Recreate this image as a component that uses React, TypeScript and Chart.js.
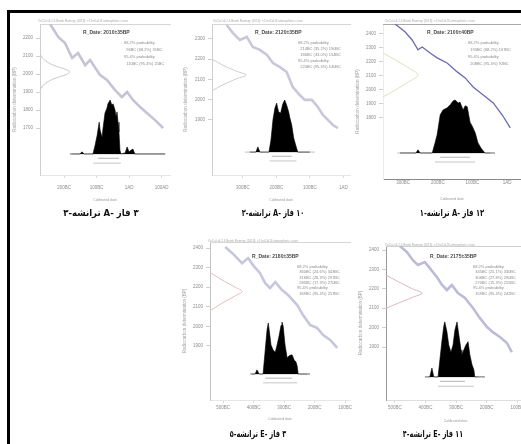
import React, { useEffect, useRef } from 'react';
import { Chart, registerables } from 'chart.js';

Chart.register(...registerables);
Chart.defaults.font.family = '"Liberation Sans", Arial, sans-serif';

const HEADER = 'OxCal v4.2.4 Bronk Ramsey (2013); r:5 IntCal13 atmospheric curve';
const X_TITLE = 'Calibrated date';
const Y_TITLE = 'Radiocarbon determination (BP)';

// ---------- Plot 1 (top left) ----------
const P1_CURVE_YEAR = [-243, -218, -197, -175, -157, -135, -120, -89, -68, -43, -22, -6, 12, 34, 55, 80, 105];
const P1_CURVE_BP = [2278, 2206, 2172, 2089, 2117, 2050, 2078, 1994, 1967, 1911, 1872, 1900, 1856, 1817, 1783, 1744, 1700];
const P1_GAUSS_P = [0, 0.03, 0.1, 0.2, 0.23, 0.2, 0.1, 0.03, 0];
const P1_GAUSS_BP = [2110, 2080, 2050, 2025, 2011, 1997, 1972, 1942, 1912];
const P1_DIST_YEAR = [-182, -151, -145, -138, -111, -105, -98, -92, -89, -83, -80, -74, -68, -65, -58, -55, -52, -49, -43, -40, -37, -34, -31, -28, -25, -12, -6, 0, 6, 12, 18, 111];
const P1_DIST_P = [0, 0, 0.04, 0, 0, 0.15, 0.35, 0.59, 0.44, 0.31, 0.48, 0.76, 0.85, 0.93, 1.0, 0.94, 0.91, 0.93, 0.81, 0.69, 0.78, 0.59, 0.41, 0.07, 0, 0.02, 0.13, 0.04, 0.07, 0.09, 0, 0];
const P1_BASE_YEAR = [-175, 112];
const P1_R68 = [-96, -31];
const P1_R95 = [-110, -25];
const P1_Y_TICKS = [2200, 2100, 2000, 1900, 1800, 1700];
const P1_X_TICKS = [-200, -100, 0, 100];
const P1_X_LABELS = ['200BC', '100BC', '1AD', '100AD'];
const P1_TITLE = 'R_Date: 2010±35BP';
const P1_LEGEND = ['68.2% probability', '  96BC (68.2%) 31BC', '95.4% probability', '  110BC (95.4%) 25BC'];
const P1_CAPTION = ['۳-', 'ترانشه', ' A- ', 'فاز', ' ۳'];

// ---------- Plot 2 (top middle) ----------
const P2_CURVE_YEAR = [-348, -330, -309, -288, -270, -249, -228, -210, -190, -169, -151, -130, -115, -94, -76, -61, -46, -31, -16];
const P2_CURVE_BP = [2369, 2330, 2295, 2310, 2260, 2246, 2221, 2181, 2162, 2137, 2063, 2023, 1999, 1999, 1964, 1925, 1900, 1875, 1860];
const P2_GAUSS_P = [0, 0.08, 0.18, 0.25, 0.18, 0.08, 0];
const P2_GAUSS_BP = [2200, 2170, 2140, 2122, 2104, 2074, 2044];
const P2_DIST_YEAR = [-279, -261, -255, -249, -222, -216, -210, -204, -199, -196, -193, -187, -181, -175, -169, -163, -160, -154, -148, -142, -136, -100];
const P2_DIST_P = [0, 0, 0.10, 0, 0, 0.23, 0.62, 0.85, 0.94, 0.85, 0.77, 0.75, 0.92, 1.0, 0.90, 0.77, 0.67, 0.52, 0.27, 0.13, 0, 0];
const P2_BASE_YEAR = [-294, -85];
const P2_R68 = [-213, -154];
const P2_R95 = [-220, -140];
const P2_Y_TICKS = [2300, 2200, 2100, 2000, 1900];
const P2_X_TICKS = [-300, -200, -100, 0];
const P2_X_LABELS = ['300BC', '200BC', '100BC', '1AD'];
const P2_TITLE = 'R_Date: 2120±35BP';
const P2_LEGEND = ['68.2% probability', '  214BC (35.2%) 190BC', '  186BC (33.0%) 154BC', '95.4% probability', '  220BC (95.4%) 140BC'];
const P2_CAPTION = ['۲-', 'ترانشه', ' A- ', 'فاز', ' ۱۰'];

// ---------- Plot 3 (top right) ----------
const P3_CURVE_YEAR = [-323, -294, -274, -257, -245, -222, -202, -173, -144, -121, -98, -69, -40, -14, 9];
const P3_CURVE_BP = [2471, 2414, 2357, 2286, 2307, 2264, 2229, 2193, 2129, 2086, 2021, 1964, 1907, 1821, 1729];
const P3_GAUSS_P = [0, 0.08, 0.18, 0.254, 0.18, 0.08, 0];
const P3_GAUSS_BP = [2264, 2220, 2160, 2107, 2054, 1994, 1950];
const P3_DIST_YEAR = [-309, -263, -257, -251, -216, -208, -202, -193, -185, -173, -164, -156, -150, -141, -136, -127, -121, -115, -107, -101, -92, -84, -75, -64, -35];
const P3_DIST_P = [0, 0, 0.06, 0, 0, 0.19, 0.34, 0.72, 0.81, 0.85, 0.91, 0.98, 1.0, 0.94, 0.96, 0.81, 0.89, 0.87, 0.58, 0.51, 0.38, 0.19, 0.09, 0, 0];
const P3_BASE_YEAR = [-317, -49];
const P3_R68 = [-193, -107];
const P3_R95 = [-208, -92];
const P3_Y_TICKS = [2400, 2300, 2200, 2100, 2000, 1900, 1800];
const P3_X_TICKS = [-300, -200, -100, 0];
const P3_X_LABELS = ['300BC', '200BC', '100BC', '1AD'];
const P3_TITLE = 'R_Date: 2100±40BP';
const P3_LEGEND = ['68.2% probability', '  193BC (68.2%) 107BC', '95.4% probability', '  208BC (95.4%) 92BC'];
const P3_CAPTION = ['۱-', 'ترانشه', ' A- ', 'فاز', ' ۱۲'];

// ---------- Plot 4 (bottom middle) ----------
const P4_CURVE_YEAR = [-493, -470, -454, -438, -418, -402, -379, -362, -346, -329, -307, -287, -257, -238, -215, -192, -172, -149, -126];
const P4_CURVE_BP = [2405, 2374, 2349, 2323, 2349, 2313, 2272, 2221, 2196, 2227, 2186, 2160, 2109, 2058, 2007, 1992, 1956, 1931, 1890];
const P4_GAUSS_P = [0, 0.08, 0.18, 0.23, 0.18, 0.08, 0];
const P4_GAUSS_BP = [2275, 2240, 2200, 2178, 2156, 2116, 2080];
const P4_DIST_YEAR = [-411, -395, -389, -382, -369, -362, -356, -352, -349, -343, -336, -329, -323, -316, -310, -307, -303, -297, -290, -284, -274, -267, -261, -257, -254, -215];
const P4_DIST_P = [0, 0, 0.08, 0, 0, 0.46, 0.85, 0.98, 0.85, 0.56, 0.46, 0.42, 0.56, 0.75, 0.94, 1.0, 0.92, 0.56, 0.31, 0.35, 0.37, 0.27, 0.23, 0.15, 0, 0];
const P4_BASE_YEAR = [-405, -225];
const P4_R68 = [-362, -274];
const P4_R95 = [-369, -257];
const P4_Y_TICKS = [2400, 2300, 2200, 2100, 2000, 1900];
const P4_X_TICKS = [-500, -400, -300, -200, -100];
const P4_X_LABELS = ['500BC', '400BC', '300BC', '200BC', '100BC'];
const P4_TITLE = 'R_Date: 2180±35BP';
const P4_LEGEND = ['68.2% probability', '  360BC (24.6%) 343BC', '  316BC (26.3%) 297BC', '  285BC (17.3%) 270BC', '95.4% probability', '  369BC (95.4%) 257BC'];
const P4_CAPTION = ['۵-', 'ترانشه', ' E- ', 'فاز', ' ۳'];

// ---------- Plot 5 (bottom right) ----------
const P5_CURVE_YEAR = [-484, -461, -441, -425, -402, -386, -363, -346, -330, -314, -294, -271, -245, -222, -199, -180, -157, -134, -118];
const P5_CURVE_BP = [2421, 2390, 2348, 2323, 2338, 2307, 2261, 2220, 2194, 2220, 2178, 2153, 2101, 2049, 2003, 1977, 1952, 1921, 1874];
const P5_GAUSS_P = [0, 0.08, 0.19, 0.26, 0.19, 0.08, 0];
const P5_GAUSS_BP = [2271, 2240, 2200, 2178, 2156, 2124, 2100];
const P5_DIST_YEAR = [-402, -386, -379, -373, -359, -353, -346, -340, -337, -330, -324, -317, -310, -304, -297, -291, -284, -281, -275, -268, -261, -255, -248, -242, -239, -206];
const P5_DIST_P = [0, 0, 0.16, 0, 0, 0.31, 0.67, 0.93, 1.0, 0.82, 0.58, 0.45, 0.58, 0.85, 1.0, 0.76, 0.49, 0.40, 0.49, 0.58, 0.64, 0.40, 0.22, 0.13, 0, 0];
const P5_BASE_YEAR = [-392, -229];
const P5_R68 = [-353, -271];
const P5_R95 = [-359, -242];
const P5_Y_TICKS = [2400, 2300, 2200, 2100, 2000, 1900];
const P5_X_TICKS = [-500, -400, -300, -200, -100];
const P5_X_LABELS = ['500BC', '400BC', '300BC', '200BC', '100BC'];
const P5_TITLE = 'R_Date: 2175±35BP';
const P5_LEGEND = ['68.2% probability', '  345BC (25.1%) 330BC', '  306BC (27.8%) 290BC', '  270BC (15.3%) 255BC', '95.4% probability', '  359BC (95.4%) 242BC'];
const P5_CAPTION = ['۴-', 'ترانشه', ' E- ', 'فاز', ' ۱۱'];

const pts = (xs: number[], ys: number[]) => xs.map((x, i) => ({ x, y: ys[i] }));

type Spec = any;

const SPECS: Spec[] = [
  {
    key: 'p1', left: 12, top: 14, w: 165, h: 195, pad: { left: 0, top: 10, right: 7, bottom: 7 }, yW: 28, xH: 27,
    xTickLen: 3, xTickPad: 7, xRange: [-274, 126], yRange: [1439, 2278], y2Range: [-0.39, 2.41],
    curveYear: P1_CURVE_YEAR, curveBP: P1_CURVE_BP, gaussP: P1_GAUSS_P, gaussBP: P1_GAUSS_BP,
    distYear: P1_DIST_YEAR, distP: P1_DIST_P, baseYear: P1_BASE_YEAR, r68: P1_R68, r95: P1_R95,
    yTicks: P1_Y_TICKS, xTicks: P1_X_TICKS, xLabels: P1_X_LABELS, title: P1_TITLE, legend: P1_LEGEND,
    curveColor: '#c4c4d6', curveWidth: 2.6, gaussColor: '#c8c8c8', xBorder: '#e6e6e6', yBorder: '#cfcfcf', topBorder: '#d6d6d6',
    notes: { hDX: -2, hDY: -3, tDX: 43, tDY: 9, lDX: 84, lDY: 19, lStep: 7 },
    caption: P1_CAPTION, capX: 101, capY: 213, capScale: 0.9,
  },
  {
    key: 'p2', left: 183, top: 14, w: 172, h: 195, pad: { left: 0, top: 10, right: 5, bottom: 7 }, yW: 29, xH: 27,
    xTickLen: 3, xTickPad: 7, xRange: [-392, 20], yRange: [1628, 2374], y2Range: [-0.44, 2.46],
    curveYear: P2_CURVE_YEAR, curveBP: P2_CURVE_BP, gaussP: P2_GAUSS_P, gaussBP: P2_GAUSS_BP,
    distYear: P2_DIST_YEAR, distP: P2_DIST_P, baseYear: P2_BASE_YEAR, r68: P2_R68, r95: P2_R95,
    yTicks: P2_Y_TICKS, xTicks: P2_X_TICKS, xLabels: P2_X_LABELS, title: P2_TITLE, legend: P2_LEGEND,
    curveColor: '#c8c8d8', curveWidth: 2.6, gaussColor: '#cdcdcd', xBorder: '#e6e6e6', yBorder: '#cfcfcf', topBorder: '#d6d6d6',
    notes: { hDX: 1, hDY: -3, tDX: 43, tDY: 9, lDX: 86, lDY: 19, lStep: 6 },
    caption: P2_CAPTION, capX: 273, capY: 213, capScale: 0.7,
  },
  {
    key: 'p3', left: 355, top: 14, w: 180, h: 195, pad: { left: 0, top: 10, right: 14, bottom: 8 }, yW: 28, xH: 22,
    xTickLen: 1.5, xTickPad: 0, xRange: [-358, 40], yRange: [1364, 2471], y2Range: [-0.49, 2.43],
    curveYear: P3_CURVE_YEAR, curveBP: P3_CURVE_BP, gaussP: P3_GAUSS_P, gaussBP: P3_GAUSS_BP,
    distYear: P3_DIST_YEAR, distP: P3_DIST_P, baseYear: P3_BASE_YEAR, r68: P3_R68, r95: P3_R95,
    yTicks: P3_Y_TICKS, xTicks: P3_X_TICKS, xLabels: P3_X_LABELS, title: P3_TITLE, legend: P3_LEGEND,
    curveColor: '#6a6ab0', curveWidth: 1.3, gaussColor: '#dbe2b4', xBorder: '#8a8a8a', yBorder: '#ececec', topBorder: '#a8a8a8',
    notes: { hDX: 2, hDY: -3, tDX: 44, tDY: 9, lDX: 85, lDY: 19, lStep: 7 },
    caption: P3_CAPTION, capX: 452, capY: 213, capScale: 0.72,
  },
  {
    key: 'p4', left: 182, top: 232, w: 175, h: 192, pad: { left: 0, top: 10, right: 7, bottom: 3 }, yW: 28, xH: 21,
    xTickLen: 3, xTickPad: 2.3, xRange: [-543, -84], yRange: [1624, 2431], y2Range: [-0.5, 2.54],
    curveYear: P4_CURVE_YEAR, curveBP: P4_CURVE_BP, gaussP: P4_GAUSS_P, gaussBP: P4_GAUSS_BP,
    distYear: P4_DIST_YEAR, distP: P4_DIST_P, baseYear: P4_BASE_YEAR, r68: P4_R68, r95: P4_R95,
    yTicks: P4_Y_TICKS, xTicks: P4_X_TICKS, xLabels: P4_X_LABELS, title: P4_TITLE, legend: P4_LEGEND,
    curveColor: '#c6c6de', curveWidth: 2.6, gaussColor: '#e6bcbc', xBorder: '#e6e6e6', yBorder: '#c4c4c4', topBorder: '#d6d6d6',
    notes: { hDX: -2, hDY: -1, tDX: 42, tDY: 15, lDX: 87, lDY: 25, lStep: 5.3 },
    caption: P4_CAPTION, capX: 258, capY: 434, capScale: 0.68,
  },
  {
    key: 'p5', left: 358, top: 236, w: 180, h: 190, pad: { left: 0, top: 10, right: 13, bottom: 3 }, yW: 28, xH: 23,
    xTickLen: 3, xTickPad: 2.3, xRange: [-529, -75], yRange: [1627, 2421], y2Range: [-0.42, 2.38],
    curveYear: P5_CURVE_YEAR, curveBP: P5_CURVE_BP, gaussP: P5_GAUSS_P, gaussBP: P5_GAUSS_BP,
    distYear: P5_DIST_YEAR, distP: P5_DIST_P, baseYear: P5_BASE_YEAR, r68: P5_R68, r95: P5_R95,
    yTicks: P5_Y_TICKS, xTicks: P5_X_TICKS, xLabels: P5_X_LABELS, title: P5_TITLE, legend: P5_LEGEND,
    curveColor: '#bcbcda', curveWidth: 2.6, gaussColor: '#e2b4c0', xBorder: '#dedede', yBorder: '#9a9a9a', topBorder: '#d0d0d0',
    notes: { hDX: -1, hDY: -1, tDX: 44, tDY: 11, lDX: 87, lDY: 21, lStep: 5.3 },
    caption: P5_CAPTION, capX: 433, capY: 434, capScale: 0.68,
  },
];

function CalPlot({ spec }: { spec: Spec }) {
  const ref = useRef<HTMLCanvasElement>(null);
  useEffect(() => {
    const canvas = ref.current;
    if (!canvas) return;
    const n = spec.notes;
    const notesPlugin = {
      id: 'calNotes',
      afterDraw(chart: any) {
        const { ctx, chartArea: ca } = chart;
        ctx.save();
        ctx.textBaseline = 'middle';
        ctx.textAlign = 'left';
        ctx.fillStyle = '#a8a8a8';
        ctx.font = '3px "Liberation Sans", Arial, sans-serif';
        ctx.fillText(HEADER, ca.left + n.hDX, ca.top + n.hDY);
        ctx.fillStyle = '#4a4a4a';
        ctx.font = 'bold 5px "Liberation Sans", Arial, sans-serif';
        ctx.fillText(spec.title, ca.left + n.tDX, ca.top + n.tDY);
        ctx.fillStyle = '#8a8a8a';
        ctx.font = '4px "Liberation Sans", Arial, sans-serif';
        spec.legend.forEach((t: string, i: number) => {
          ctx.fillText(t, ca.left + n.lDX, ca.top + n.lDY + i * n.lStep);
        });
        ctx.restore();
      },
    };
    const r68Lvl = -0.08;
    const r95Lvl = -0.17;
    const chart = new Chart(canvas, {
      type: 'line',
      data: {
        datasets: [
          {
            label: 'posterior', data: pts(spec.distYear, spec.distP), xAxisID: 'x', yAxisID: 'y2',
            borderColor: '#000', backgroundColor: '#000', borderWidth: 0.6, fill: 'origin', pointRadius: 0, tension: 0,
          },
          {
            label: 'baseline', data: pts(spec.baseYear, [0, 0]), xAxisID: 'x', yAxisID: 'y2',
            borderColor: '#b0b0b0', borderWidth: 0.8, fill: false, pointRadius: 0,
          },
          {
            label: '68.2%', data: pts(spec.r68, [r68Lvl, r68Lvl]), xAxisID: 'x', yAxisID: 'y2',
            borderColor: '#a0a0a0', borderWidth: 0.8, fill: false, pointRadius: 0,
          },
          {
            label: '95.4%', data: pts(spec.r95, [r95Lvl, r95Lvl]), xAxisID: 'x', yAxisID: 'y2',
            borderColor: '#b8b8b8', borderWidth: 0.8, fill: false, pointRadius: 0,
          },
          {
            label: 'IntCal13', data: pts(spec.curveYear, spec.curveBP), xAxisID: 'x', yAxisID: 'y',
            borderColor: spec.curveColor, borderWidth: spec.curveWidth, fill: false, pointRadius: 0, tension: 0,
          },
          {
            label: 'measurement', data: pts(spec.gaussP, spec.gaussBP), xAxisID: 'x2', yAxisID: 'y',
            borderColor: spec.gaussColor, borderWidth: 1, fill: false, pointRadius: 0, tension: 0.3,
          },
        ],
      },
      options: {
        responsive: false,
        animation: false,
        events: [],
        layout: { padding: spec.pad },
        plugins: { legend: { display: false }, tooltip: { enabled: false }, title: { display: false } },
        scales: {
          x: {
            type: 'linear', position: 'bottom', min: spec.xRange[0], max: spec.xRange[1],
            afterBuildTicks: (s: any) => { s.ticks = spec.xTicks.map((v: number) => ({ value: v })); },
            afterFit: (s: any) => { s.height = spec.xH; },
            ticks: {
              autoSkip: false, maxRotation: 0, minRotation: 0, padding: spec.xTickPad,
              font: { size: 4.5 }, color: '#8c8c8c',
              callback: (_v: any, i: number) => spec.xLabels[i],
            },
            grid: { display: true, drawOnChartArea: false, drawTicks: true, tickLength: spec.xTickLen, color: '#cfcfcf', lineWidth: 0.8 },
            border: { display: true, color: spec.xBorder, width: 1 },
            title: { display: true, text: X_TITLE, font: { size: 3.5 }, color: '#9a9a9a', padding: 0 },
          },
          y: {
            type: 'linear', position: 'left', min: spec.yRange[0], max: spec.yRange[1],
            afterBuildTicks: (s: any) => { s.ticks = spec.yTicks.map((v: number) => ({ value: v })); },
            afterFit: (s: any) => { s.width = spec.yW; },
            ticks: {
              autoSkip: false, padding: 3, font: { size: 4.5 }, color: '#8c8c8c',
              callback: (_v: any, i: number) => String(spec.yTicks[i]),
            },
            grid: { display: true, drawOnChartArea: false, drawTicks: true, tickLength: 4, color: '#c4c4c4', lineWidth: 0.8 },
            border: { display: true, color: spec.yBorder, width: 1 },
            title: { display: true, text: Y_TITLE, font: { size: 4.5 }, color: '#a4a4a4', padding: 0 },
          },
          x2: {
            type: 'linear', position: 'top', min: 0, max: 1,
            ticks: { display: false },
            grid: { display: true, drawOnChartArea: false, drawTicks: false },
            border: { display: true, color: spec.topBorder, width: 1 },
            afterFit: (s: any) => { s.height = 0; },
          },
          y2: { type: 'linear', display: false, min: spec.y2Range[0], max: spec.y2Range[1] },
        },
      },
      plugins: [notesPlugin],
    } as any);
    return () => chart.destroy();
  }, [spec]);
  return (
    <canvas
      ref={ref}
      width={spec.w}
      height={spec.h}
      style={{ position: 'absolute', left: spec.left, top: spec.top, width: spec.w, height: spec.h }}
    />
  );
}

function Caption({ spec }: { spec: Spec }) {
  return (
    <div
      dir="ltr"
      style={{
        position: 'absolute', left: spec.capX - 60, top: spec.capY - 7, width: 120, height: 14,
        display: 'flex', justifyContent: 'center', alignItems: 'center', whiteSpace: 'pre',
        fontFamily: '"DejaVu Sans", sans-serif', fontWeight: 'bold', fontSize: 9.5, color: '#111', lineHeight: '14px',
        transform: `scaleX(${spec.capScale})`, transformOrigin: 'center center',
      }}
    >
      {spec.caption.map((part: string, i: number) => (
        <span key={i} style={{ unicodeBidi: 'isolate', display: 'inline-block' }}>{part}</span>
      ))}
    </div>
  );
}

export default function App() {
  return (
    <div style={{ position: 'absolute', left: 0, top: 0, width: 521, height: 444, overflow: 'hidden', background: '#fff' }}>
      <div style={{ position: 'absolute', left: 7, top: 10, width: 520, height: 440, borderLeft: '3px solid #000', borderTop: '3px solid #000' }} />
      {SPECS.map((s) => (
        <React.Fragment key={s.key}>
          <CalPlot spec={s} />
          <Caption spec={s} />
        </React.Fragment>
      ))}
    </div>
  );
}
